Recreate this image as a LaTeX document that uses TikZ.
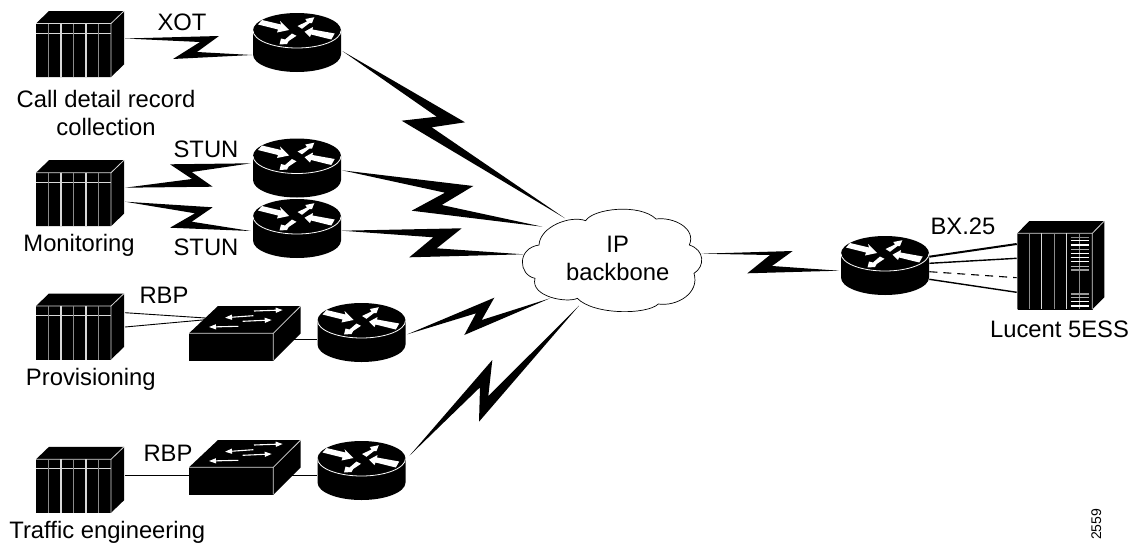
\documentclass[tikz,border=0pt]{standalone}
\usepackage{fontspec}
\setmainfont{Liberation Sans}
\usetikzlibrary{shapes.geometric,arrows.meta}
\newcommand\hostbox[3]{%
  \begin{scope}[shift={(#2,#3)}]
    \fill[black] (0,0) -- (13,-12.5) -- (88,-12.5) -- (88,41) -- (75,53.5) -- (0,53.5) -- cycle;
    \node[hostfront,anchor=north west] (#1) at (0,0) {};
    \draw[edgeline] (0,0) -- (75,0) -- (75,53.5) (75,0) -- (88,-12.5);
    \draw[edgeline] (0,9.5) -- (75,9.5);
    \draw[edgeline,line width=1.3pt] (25,0) -- (25,53.5) (50,0) -- (50,53.5);
    \draw[thingray] (12.5,0) -- (12.5,53.5) (37.5,0) -- (37.5,53.5) (62.5,0) -- (62.5,53.5);
  \end{scope}}
\newcommand\routerbox[3]{%
  \begin{scope}[shift={(#2,#3)}]
    \fill[black] (-44,0) -- (-44,24) arc[start angle=180,end angle=0,x radius=44,y radius=17.5] -- (44,0) -- cycle;
    \node[routertop] (#1) at (0,0) {};
    \draw[white,line width=0.8pt] (-44,0) arc[start angle=180,end angle=0,x radius=44,y radius=17.5];
    \fill[white] (-39,-6) -- (-35,-10.5) -- (-16,-6) -- (-17,-9.5) -- (-8,-0.5) -- (-20,2) -- (-19,-1) -- cycle;
    \fill[white] (37.7,3) -- (34.3,9) -- (14,4) -- (13,6.5) -- (7.5,1.2) -- (16,-3.5) -- (15.5,-1) -- cycle;
    \fill[white] (0.5,-4.5) -- (5,-1.7) -- (12.5,-7.5) -- (15,-7.5) -- (17.3,-13.3) -- (8.3,-11.5) -- (10,-9) -- cycle;
    \fill[white] (-5,3) -- (-0.5,5.3) -- (-8.3,10.5) -- (-10,13.5) -- (-17.5,14) -- (-16,8) -- (-12,9) -- cycle;
  \end{scope}}
\newcommand\switchbox[3]{%
  \begin{scope}[shift={(#2,#3)}]
    \fill[black] (0,0) -- (29,-27.3) -- (111.7,-27.3) -- (111.7,0) -- (84.3,27.4) -- (0,27.4) -- cycle;
    \node[switchfront,anchor=north west] (#1) at (0,0) {};
    \draw[edgeline] (0,0) -- (84.3,0) -- (84.3,27.4) (84.3,0) -- (111.7,-27.3);
    \draw[swarrow] (65,-22.3) -- (93.7,-23.3);
    \draw[swarrow] (64.3,-17.6) -- (36,-15.6);
    \draw[swarrow] (53.7,-12) -- (82.7,-13.3);
    \draw[swarrow] (49.3,-7) -- (20,-6.3);
  \end{scope}}
\newcommand\boltline[6]{\fill[black] (#1) -- #3 -- #4 -- (#2) -- #5 -- #6 -- cycle;}
\tikzset{
  edgeline/.style={draw=white!85!black,line width=0.8pt},
  thingray/.style={draw=white!55!black,line width=0.5pt},
  hostfront/.style={fill=black,inner sep=0pt,minimum width=75pt,minimum height=53.5pt},
  switchfront/.style={fill=black,inner sep=0pt,minimum width=84.3pt,minimum height=27.4pt},
  routertop/.style={ellipse,fill=black,inner sep=0pt,minimum width=88pt,minimum height=35pt},
  swarrow/.style={white,line width=1.1pt,-{Triangle[length=7pt,width=5pt]}},
  label/.style={anchor=base,inner sep=0pt,font=\fontsize{23.8}{28}\selectfont},
  thinlink/.style={black,line width=0.9pt},
}
\begin{document}
\begin{tikzpicture}[x=1pt,y=-1pt]
\useasboundingbox (0,0) rectangle (1139,546);
% connector ends
\coordinate (e1a) at (125,38.5);   \coordinate (e1b) at (252,55);
\coordinate (e2a) at (342.3,51);   \coordinate (e2b) at (565,218.3);
\coordinate (e3a) at (342,170.3);  \coordinate (e3b) at (542.3,226.7);
\coordinate (e4a) at (341.7,230.7);\coordinate (e4b) at (523.3,254.3);
\coordinate (e5a) at (407.3,334.3);\coordinate (e5b) at (550,298.3);
\coordinate (e6a) at (409.5,455.7);\coordinate (e6b) at (579,305.7);
\coordinate (e7a) at (701.7,253.7);\coordinate (e7b) at (839,270.7);
\coordinate (e8a) at (125,187.7);  \coordinate (e8b) at (250.7,163.3);
\coordinate (e9a) at (125,201.7);  \coordinate (e9b) at (250.7,231);
\coordinate (s1a) at (125,312.7);  \coordinate (s1b) at (210,318.3);
\coordinate (s2a) at (125,327);    \coordinate (s2b) at (210,319.3);
\coordinate (s3a) at (293.3,339.3);\coordinate (s3b) at (316.7,339.3);
\coordinate (s4a) at (125,475.7);  \coordinate (s4b) at (189,475.7);
\coordinate (s5a) at (291.7,475.7);\coordinate (s5b) at (316.7,475.7);
\coordinate (t1a) at (929.3,256.7);\coordinate (t1b) at (1016.7,244);
\coordinate (t2a) at (929.3,263.3);\coordinate (t2b) at (1016.7,258.3);
\coordinate (t3a) at (929.3,271.7);\coordinate (t3b) at (1016.7,277.7);
\coordinate (t4a) at (929.3,279.3);\coordinate (t4b) at (1016.7,292.3);
% lightning connectors
\boltline{e1a}{e1b}{(219,36)}{(197,52)}{(173,59)}{(200,42)}
\boltline{e2a}{e2b}{(465,122.3)}{(431.7,127.3)}{(401.7,120.7)}{(436.7,116.7)}
\boltline{e3a}{e3b}{(473.3,186)}{(441.7,205)}{(411.7,210.7)}{(445,192.7)}
\boltline{e4a}{e4b}{(461.7,228.3)}{(436.7,248.3)}{(409.3,257.3)}{(433.3,237.3)}
\boltline{e5a}{e5b}{(494.3,297.7)}{(481.7,320)}{(464.3,335)}{(476,313.3)}
\boltline{e6a}{e6b}{(492.3,360)}{(488.3,396)}{(479,421.7)}{(480,387.3)}
\boltline{e7a}{e7b}{(792.7,251)}{(772,266)}{(747.3,273.3)}{(770,255)}
\boltline{e8a}{e8b}{(212.7,186.7)}{(191.7,172)}{(170,164.3)}{(192,179)}
\boltline{e9a}{e9b}{(212.7,207.3)}{(191.7,221.7)}{(170,227.7)}{(195,213.3)}
% plain links
\draw[thinlink] (s1a) -- (s1b);
\draw[thinlink] (s2a) -- (s2b);
\draw[thinlink] (s3a) -- (s3b);
\draw[thinlink] (s4a) -- (s4b);
\draw[thinlink] (s5a) -- (s5b);
\draw[black,line width=2pt] (t1a) -- (t1b);
\draw[black,line width=1.4pt] (t2a) -- (t2b);
\draw[black,line width=1.1pt,dash pattern=on 8pt off 6pt] (t3a) -- (t3b);
\draw[black,line width=1.4pt] (t4a) -- (t4b);
% cloud
\begin{scope}[shift={(340,150)},x=0.33333pt,y=-0.33333pt]
\draw[fill=white,draw=black,line width=0.7pt]
 (597,285) .. controls (600,230) and (690,195) .. (737,212)
 .. controls (760,175) and (900,160) .. (948,207)
 .. controls (1000,200) and (1070,235) .. (1048,285)
 .. controls (1095,300) and (1095,350) .. (1062,370)
 .. controls (1080,430) and (1010,470) .. (955,462)
 .. controls (920,495) and (760,495) .. (712,445)
 .. controls (680,460) and (570,440) .. (585,385)
 .. controls (535,375) and (530,295) .. (597,285) -- cycle;
\end{scope}
% hosts
\hostbox{h1}{36}{23.5}
\hostbox{h2}{36}{172.7}
\hostbox{h3}{36}{306}
\hostbox{h4}{36}{459.3}
% routers
\routerbox{r1}{297}{30.5}
\routerbox{r2}{297}{156}
\routerbox{r3}{297}{216.5}
\routerbox{r4}{361.5}{320.5}
\routerbox{r5}{361.5}{458.5}
\routerbox{r6}{885}{253.5}
% switches
\switchbox{sw1}{189}{333.3}
\switchbox{sw2}{189}{467.3}
% 5ESS
\begin{scope}[shift={(1017.3,233.3)}]
  \fill[black] (0,0) -- (12,-12.3) -- (87,-12.3) -- (87,64) -- (75,76) -- (0,76) -- cycle;
  \node[hostfront,minimum height=76pt,anchor=north west] (ess) at (0,0) {};
  \draw[edgeline] (0,0) -- (75,0) -- (75,76) (75,0) -- (87,-12.3);
  \draw[edgeline,line width=1.3pt] (24.4,0) -- (24.4,76) (49.4,0) -- (49.4,76);
  \draw[thingray] (12,0) -- (12,76) (37,0) -- (37,76) (62,0) -- (62,76);
  \foreach \yy/\cc in {4/55,7.4/100,11.7/100,16/70,20/100,24.4/100,28.4/100,33.4/70,36.7/60,60.7/60,64/70,68.4/100,72.7/100}
    \draw[white!\cc!black,line width=1.2pt] (53.4,\yy) -- (72,\yy);
\end{scope}
% labels
\node[label] (lxot) at (182,30) {XOT};
\node[label] (lcdr1) at (106,107.3) {Call detail record};
\node[label] (lcdr2) at (106,135) {collection};
\node[label] (lst1) at (206,157.3) {STUN};
\node[label] (lmon) at (79,251.7) {Monitoring};
\node[label] (lst2) at (206,255) {STUN};
\node[label] (lrbp1) at (164,303.3) {RBP};
\node[label] (lprov) at (90.8,385) {Provisioning};
\node[label] (lrbp2) at (168,461.7) {RBP};
\node[label] (ltraf) at (107.3,538.3) {Traffic engineering};
\node[label] (lip) at (617.7,252.7) {IP};
\node[label] (lbb) at (617.7,280) {backbone};
\node[label] (lbx) at (963,234) {BX.25};
\node[label] (lluc) at (1059.5,337.7) {Lucent 5ESS};
\node[anchor=base west,rotate=90,inner sep=0pt,font=\fontsize{14}{16}\selectfont] (lid) at (1101,540) {2559};
\end{tikzpicture}
\end{document}
